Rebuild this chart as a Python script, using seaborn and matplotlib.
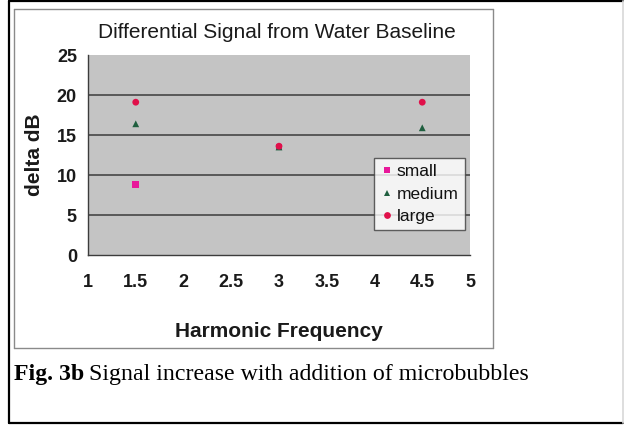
import matplotlib
matplotlib.use("Agg")
import matplotlib.pyplot as plt
import pandas as pd
import seaborn as sns

# data (no visible "small" point at 4.5)
freq = [1.5, 3.0, 4.5]
small = [8.8, 13.5, None]
medium = [16.4, 13.5, 15.9]
large = [19.1, 13.6, 19.1]
sizes = ["small", "medium", "large"]
x_ticks = [1, 1.5, 2, 2.5, 3, 3.5, 4, 4.5, 5]
y_ticks = [0, 5, 10, 15, 20, 25]

df = pd.DataFrame({
    "freq": freq * 3,
    "delta": small + medium + large,
    "size": [s for s in sizes for _ in freq],
}).dropna()

sns.set_theme(style="white")
plt.rcParams["font.family"] = ["Liberation Sans", "DejaVu Sans"]
plt.rcParams["text.color"] = "#111111"

W, H = 624, 425
fig = plt.figure(figsize=(W / 100, H / 100), dpi=100)

def px_line(x0, y0, x1, y1, **kw):
    fig.add_artist(plt.Line2D([x0 / W, x1 / W], [1 - y0 / H, 1 - y1 / H],
                              transform=fig.transFigure, **kw))

# outer frame (right side only faint) and chart area frame
px_line(9, 1, 623, 1, color="black", lw=1.6)
px_line(9, 1, 9, 423, color="black", lw=1.6)
px_line(9, 423, 623, 423, color="black", lw=1.6)
px_line(623, 1, 623, 423, color="#d8d8d8", lw=1.2)
for seg in [(14, 9, 493, 9), (14, 348, 493, 348), (14, 9, 14, 348), (493, 9, 493, 348)]:
    px_line(*seg, color="#8a8a8a", lw=1.0)

ax = fig.add_axes([88 / W, 1 - 255 / H, (470 - 88) / W, (255 - 55) / H])
ax.set_facecolor("#c4c4c4")

palette = {"small": "#e8189a", "medium": "#1f5f3f", "large": "#e0104a"}
markers = {"small": "s", "medium": "^", "large": "o"}
sns.scatterplot(data=df, x="freq", y="delta", hue="size", style="size",
                palette=palette, markers=markers, hue_order=sizes,
                style_order=sizes, s=24, linewidth=0, ax=ax)

ax.set_xlim(1, 5)
ax.set_ylim(0, 25)
ax.set_xticks(x_ticks)
ax.set_xticklabels([f"{t:g}" for t in x_ticks])
ax.set_yticks(y_ticks)
ax.grid(axis="y", color="#3c3c3c", linewidth=1.1)
ax.yaxis.get_gridlines()[-1].set_visible(False)
ax.yaxis.get_gridlines()[0].set_visible(False)
for side in ["top", "right"]:
    ax.spines[side].set_visible(False)
for side in ["left", "bottom"]:
    ax.spines[side].set_color("#3c3c3c")
    ax.spines[side].set_linewidth(1.0)
ax.tick_params(axis="both", direction="out", length=4, width=1,
               color="#3c3c3c", labelsize=13, pad=4)
ax.tick_params(axis="x", pad=10)
for lab in ax.get_xticklabels() + ax.get_yticklabels():
    lab.set_fontweight("bold")
    lab.set_color("#1a1a1a")

ax.set_xlabel("Harmonic Frequency", fontsize=15, fontweight="bold",
              color="#1a1a1a", labelpad=22)
ax.set_ylabel("delta dB", fontsize=15, fontweight="bold",
              color="#1a1a1a", labelpad=9)
fig.text(277 / W, 1 - 32 / H, "Differential Signal from Water Baseline",
         ha="center", va="center", fontsize=15, color="#1a1a1a")

leg = ax.legend(loc="upper left", bbox_to_anchor=(0.749, 0.485),
                frameon=True, fancybox=False, fontsize=12.5,
                handletextpad=0.15, handlelength=0.8, borderpad=0.35,
                labelspacing=0.42, borderaxespad=0)
leg.get_frame().set_edgecolor("#3c3c3c")
leg.get_frame().set_facecolor("white")
leg.get_frame().set_linewidth(1.0)

# caption below the chart: bold "Fig. 3b" then regular text
t1 = fig.text(14 / W, 1 - 380 / H, "Fig. 3b", fontsize=17.2, color="black",
              family="Liberation Serif", fontweight="bold", va="baseline")
fig.canvas.draw()
bb = t1.get_window_extent()
fig.text((bb.x1 + 5) / W, 1 - 380 / H,
         "Signal increase with addition of microbubbles",
         fontsize=17.2, color="black", family="Liberation Serif", va="baseline")

fig.savefig("out.png", dpi=100)
